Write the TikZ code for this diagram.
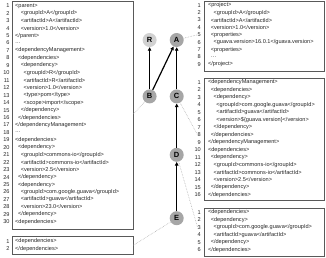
\documentclass[tikz,border=0pt]{standalone}
\usepackage{fontspec}
\setmainfont{Liberation Sans}
\usetikzlibrary{arrows.meta, positioning}

\begin{document}
\begin{tikzpicture}[x=1pt, y=-1pt,
    pom/.style={draw=black!65, line width=0.8pt, anchor=north west, inner sep=0pt},
    code/.style={anchor=west, inner sep=0pt, text=black!85, font=\fontsize{5.6}{6}\selectfont},
    num/.style={code, anchor=east},
    art/.style={circle, fill=black!35, minimum size=14pt, inner sep=0pt, font=\fontsize{7.5}{8}\selectfont\bfseries},
    arr/.style={-{Triangle[length=3.5pt, width=3.5pt]}, line width=1.2pt},
    link/.style={draw=black!30, densely dotted, line width=0.6pt}
]
    \useasboundingbox (0,0) rectangle (326,257);

    % pom of B
    \node[pom, minimum width=120.5pt, minimum height=228pt] (pomB) at (12.2,1) {};
    \foreach \lv/\txt [count=\i] in {0/{<parent>}, 2/{<groupId>A</groupId>}, 2/{<artifactId>A</artifactId>},
        2/{<version>1.0</version>}, 0/{</parent>}, 0/{\ldots}, 0/{<dependencyManagement>}, 1/{<dependencies>},
        2/{<dependency>}, 3/{<groupId>R</groupId>}, 3/{<artifactId>R</artifactId>}, 3/{<version>1.0</version>},
        3/{<type>pom</type>}, 3/{<scope>import</scope>}, 2/{</dependency>}, 1/{</dependencies>},
        0/{</dependencyManagement>}, 0/{\ldots}, 0/{<dependencies>}, 1/{<dependency>},
        2/{<groupId>commons-io</groupId>}, 2/{<artifactId>commons-io</artifactId>}, 2/{<version>2.5</version>},
        1/{</dependency>}, 1/{<dependency>}, 2/{<groupId>com.google.guava</groupId>},
        2/{<artifactId>guava</artifactId>}, 2/{<version>23.0</version>}, 1/{</dependency>}, 0/{<dependencies>}}{
        \node[code] (pomB-\i) at (15+2.8*\lv, -1.65+7.45*\i) {\txt};
        \node[num] (numB-\i) at (9.8, -1.65+7.45*\i) {\i};
    }

    % pom of E
    \node[pom, minimum width=120.5pt, minimum height=17.5pt] (pomE) at (12.2,236) {};
    \foreach \lv/\txt [count=\i] in {0/{<dependencies>}, 0/{</dependencies>}}{
        \node[code] (pomE-\i) at (15+2.8*\lv, 233.6+7.5*\i) {\txt};
        \node[num] (numE-\i) at (9.8, 233.6+7.5*\i) {\i};
    }

    % pom of A
    \node[pom, minimum width=119.2pt, minimum height=69.5pt] (pomA) at (204.3,1) {};
    \foreach \lv/\txt [count=\i] in {0/{<project>}, 2/{<groupId>A</groupId>}, 1/{<artifactId>A</artifactId>},
        1/{<version>1.0</version>}, 1/{<properties>}, 2/{<guava.version>16.0.1</guava.version>},
        1/{<properties>}, 1/{\ldots}, 0/{</project>}}{
        \node[code] (pomA-\i) at (207.8+2.8*\lv, -2.2+7.4*\i) {\txt};
        \node[num] (numA-\i) at (201, -2.2+7.4*\i) {\i};
    }

    % pom of C
    \node[pom, minimum width=119.2pt, minimum height=122pt] (pomC) at (204.3,77.5) {};
    \foreach \lv/\txt [count=\i] in {0/{<dependencyManagement>}, 1/{<dependencies>}, 2/{<dependency>},
        3/{<groupId>com.google.guava</groupId>}, 3/{<artifactId>guava</artifactId>},
        3/{<version>\$\{guava.version\}</version>}, 2/{</dependency>}, 1/{</dependencies>},
        0/{</dependencyManagement>}, 0/{<dependencies>}, 1/{<dependency>}, 2/{<groupId>commons-io</groupId>},
        2/{<artifactId>commons-io</artifactId>}, 2/{<version>2.5</version>}, 1/{</dependency>}, 0/{</dependencies>}}{
        \node[code] (pomC-\i) at (207.8+2.8*\lv, 74.8+7.5*\i) {\txt};
        \node[num] (numC-\i) at (201, 74.8+7.5*\i) {\i};
    }

    % pom of D
    \node[pom, minimum width=119.2pt, minimum height=48pt] (pomD) at (204.3,207.5) {};
    \foreach \lv/\txt [count=\i] in {0/{<dependencies>}, 1/{<dependency>}, 2/{<groupId>com.google.guava</groupId>},
        2/{<artifactId>guava</artifactId>}, 1/{</dependency>}, 0/{</dependencies>}}{
        \node[code] (pomD-\i) at (207.8+2.8*\lv, 204.7+7.5*\i) {\txt};
        \node[num] (numD-\i) at (201, 204.7+7.5*\i) {\i};
    }

    % artifacts
    \node[art] (A) at (176.7,40) {A};
    \node[art, fill=black!18, left=12.7pt of A] (R) {R};
    \node[art, below=42pt of A] (C) {C};
    \node[art, below=42pt of R] (B) {B};
    \node[art, below=44pt of C] (D) {D};
    \node[art, below=49pt of D] (E) {E};

    \draw[arr] (B) -- (R);
    \draw[arr] (B) -- (A);
    \draw[arr] (C) -- (A);
    \draw[arr] (D) -- (C);
    \draw[arr] (E) -- (D);

    % links to the poms
    \coordinate (toB) at (pomB.east |- 0,114);
    \draw[link] (A) -- (numA-5.west);
    \draw[link] (B) -- (toB);
    \draw[link] (C) -- (numC-8.west);
    \draw[link] (D) -- (numD-3.west);
    \draw[link] (E) -- (pomE.east);
\end{tikzpicture}
\end{document}
